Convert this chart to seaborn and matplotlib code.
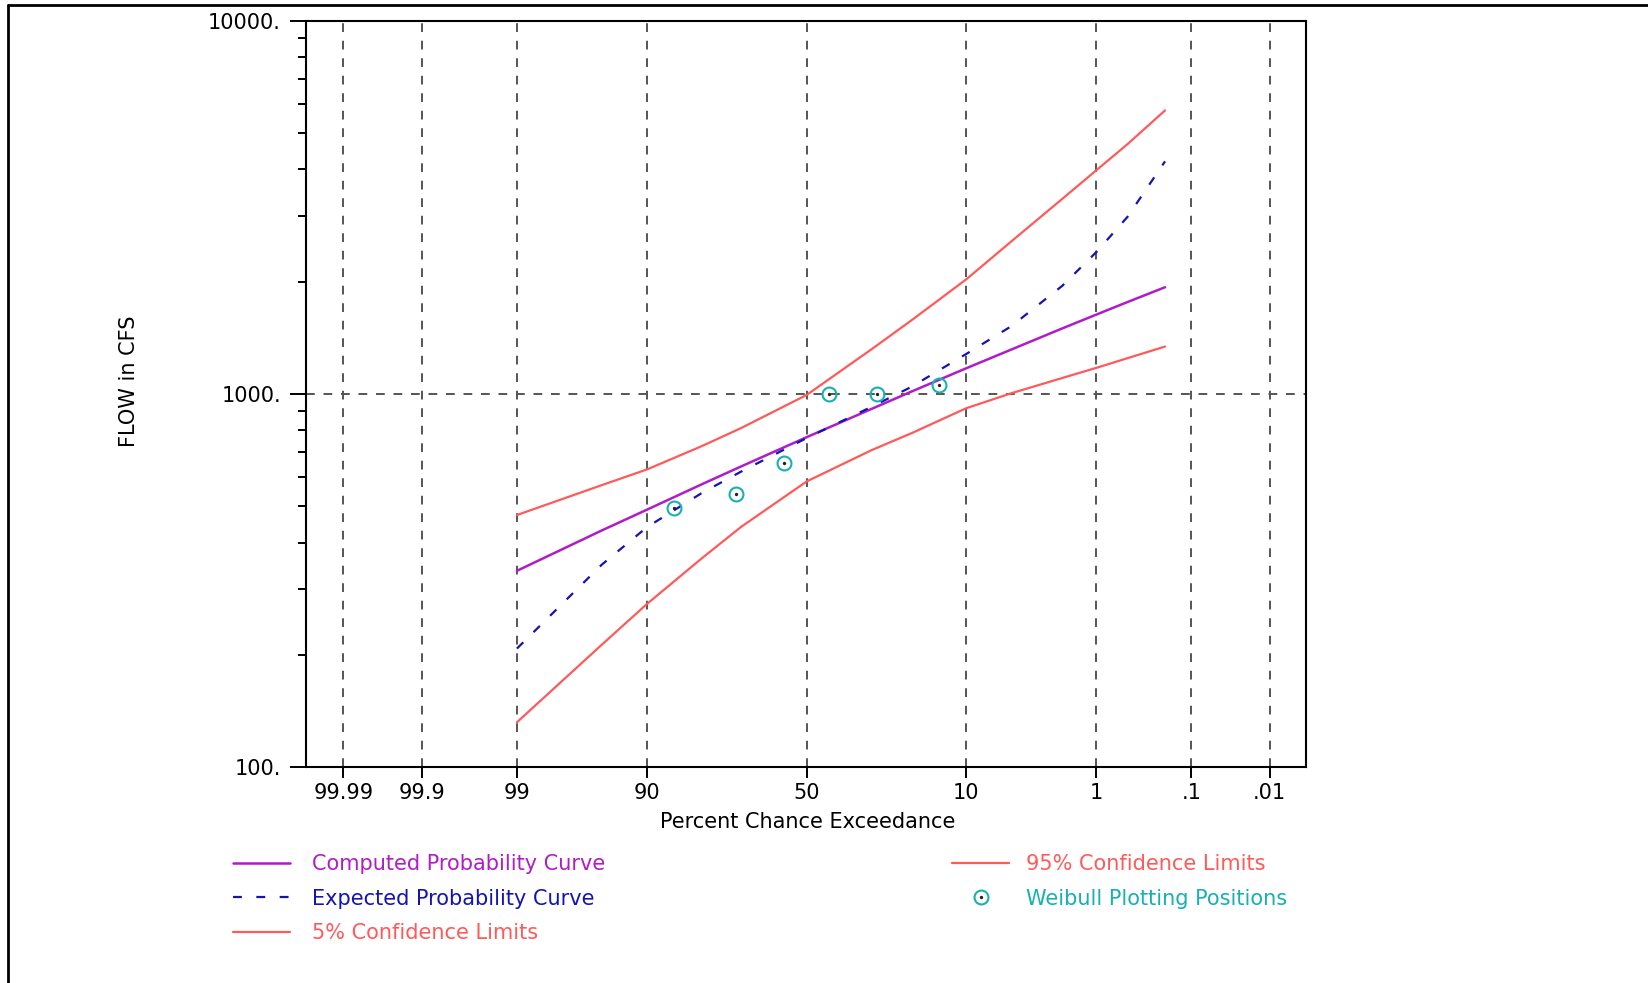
import numpy as np
import pandas as pd
import matplotlib
matplotlib.use("Agg")
import matplotlib.pyplot as plt
from matplotlib.lines import Line2D
from matplotlib.ticker import FixedLocator, FixedFormatter, NullFormatter
import seaborn as sns
from statistics import NormalDist

# Percent chance exceedance at which the frequency curves are tabulated
exceedance = [99, 95, 90, 80, 70, 50, 30, 20, 10, 5, 2, 1, 0.5, 0.2]
computed = [336, 431, 490, 573, 640, 766, 913, 1015, 1172, 1316, 1499, 1632, 1763, 1932]
expected = [208, 349, 440, 543, 620, 762, 925, 1045, 1280, 1520, 1950, 2400, 2980, 4200]
limit_05 = [474, 570, 628, 725, 811, 994, 1320, 1575, 2028, 2565, 3334, 3975, 4667, 5750]
limit_95 = [132, 213, 274, 363, 441, 583, 708, 785, 916, 1005, 1104, 1175, 1247, 1340]

# Observed peaks at their Weibull plotting positions
weibull_pct = [14.3, 28.6, 42.9, 57.1, 71.4, 85.7]
weibull_flow = [1057, 1000, 1000, 652, 540, 496]

tick_pct = [99.99, 99.9, 99, 90, 50, 10, 1, 0.1, 0.01]
tick_text = ["99.99", "99.9", "99", "90", "50", "10", "1", ".1", ".01"]
flow_ticks = [100, 1000, 10000]
flow_text = ["100.", "1000.", "10000."]

PURPLE = "#b01cc8"
BLUE = "#1414b4"
RED = "#ff5a5a"
TEAL = "#18b0b0"
GRID = "#555555"

_nd = NormalDist()


def probit(pct):
    """Normal-probability position of a percent chance exceedance."""
    return np.array([-_nd.inv_cdf(p / 100.0) for p in np.atleast_1d(pct)])


curves = pd.DataFrame({
    "z": probit(exceedance),
    "computed": computed,
    "expected": expected,
    "limit_05": limit_05,
    "limit_95": limit_95,
})
points = pd.DataFrame({"z": probit(weibull_pct), "flow": weibull_flow})

sns.set_style("white")
plt.rcParams["font.family"] = ["DejaVu Sans"]
plt.rcParams["text.color"] = "black"
plt.rcParams["axes.labelcolor"] = "black"
plt.rcParams["xtick.labelcolor"] = "black"
plt.rcParams["ytick.labelcolor"] = "black"

FS = 15
W, H = 1649, 983
fig = plt.figure(figsize=(W / 100, H / 100), dpi=100)
ax = fig.add_axes([306 / W, 1 - 767.3 / H, 1000 / W, 746.6 / H])

ax.set_yscale("log")

sns.lineplot(data=curves, x="z", y="limit_05", color=RED, lw=1.6, ax=ax)
sns.lineplot(data=curves, x="z", y="limit_95", color=RED, lw=1.6, ax=ax)
sns.lineplot(data=curves, x="z", y="computed", color=PURPLE, lw=1.8, ax=ax)
sns.lineplot(data=curves, x="z", y="expected", color=BLUE, lw=1.6,
             linestyle=(0, (4, 6.5)), ax=ax)
sns.lineplot(data=points, x="z", y="flow", color=TEAL, marker="o",
             markersize=10, markerfacecolor="none", markeredgecolor=TEAL,
             markeredgewidth=1.5, linestyle="", ax=ax)
sns.lineplot(data=points, x="z", y="flow", color="#202020", marker="o",
             markersize=2.4, markeredgewidth=0, linestyle="", ax=ax)

h_05, h_95, h_comp, h_exp, h_circ, h_dot = ax.get_lines()[:6]

ax.set_xlim(-4.02, 4.01)
ax.set_ylim(100, 10000)

# axes ticks
ax.xaxis.set_major_locator(FixedLocator(probit(tick_pct)))
ax.xaxis.set_major_formatter(FixedFormatter(tick_text))
ax.yaxis.set_major_locator(FixedLocator(flow_ticks))
ax.yaxis.set_major_formatter(FixedFormatter(flow_text))
minor = [m * 10 ** e for e in (2, 3) for m in range(2, 10)]
ax.yaxis.set_minor_locator(FixedLocator(minor))
ax.yaxis.set_minor_formatter(NullFormatter())

ax.tick_params(axis="x", which="major", direction="out", length=8, width=1.4,
               color="black", labelsize=FS, pad=3.5, bottom=True)
ax.tick_params(axis="y", which="major", direction="out", length=11.5, width=1.4,
               color="black", labelsize=FS, pad=6.5, left=True)
ax.tick_params(axis="y", which="minor", direction="out", length=5.8, width=1.4,
               color="black", left=True)

for s in ax.spines.values():
    s.set_visible(True)
    s.set_color("black")
    s.set_linewidth(1.5)

ax.grid(True, which="major", axis="both", color=GRID, lw=1.4,
        linestyle=(0, (4.5, 4.5)))
ax.set_axisbelow(True)

ax.set_xlabel("Percent Chance Exceedance", fontsize=FS)
ax.set_ylabel("FLOW in CFS", fontsize=FS)
ax.xaxis.set_label_coords(0.502, -0.060)
ax.yaxis.set_label_coords(-0.167, 0.517)

# legend in two columns below the plot
leg_kw = dict(frameon=False, fontsize=FS, handlelength=2.75,
              labelspacing=0.68, borderpad=0, borderaxespad=0, loc="upper left")
leg1 = fig.legend([h_comp, h_exp, h_05],
                  ["Computed Probability Curve", "Expected Probability Curve",
                   "5% Confidence Limits"],
                  bbox_to_anchor=(233 / W, 1 - 854.5 / H), handletextpad=1.05,
                  **leg_kw)
for t, c in zip(leg1.get_texts(), [PURPLE, BLUE, RED]):
    t.set_color(c)
leg2 = fig.legend([h_95, (h_circ, h_dot)],
                  ["95% Confidence Limits", "Weibull Plotting Positions"],
                  bbox_to_anchor=(952 / W, 1 - 854.5 / H), handletextpad=0.8,
                  **leg_kw)
for t, c in zip(leg2.get_texts(), [RED, TEAL]):
    t.set_color(c)

# window frame edges along the top and left
fig.add_artist(Line2D([8.5 / W, 1], [1 - 5 / H, 1 - 5 / H], color="black",
                      lw=2.0, transform=fig.transFigure))
fig.add_artist(Line2D([8.5 / W, 8.5 / W], [0, 1 - 5 / H], color="black",
                      lw=2.0, transform=fig.transFigure))

fig.savefig("out.png", dpi=100, facecolor="white")
